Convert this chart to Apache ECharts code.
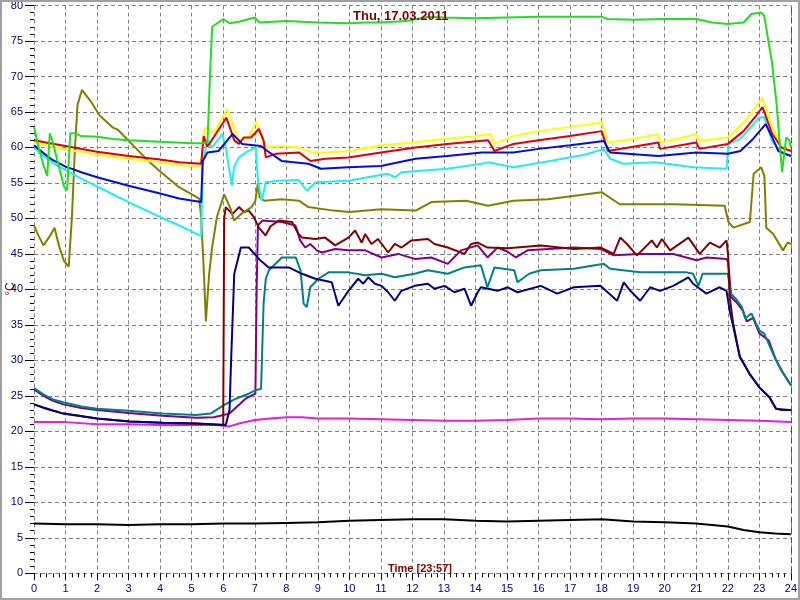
<!DOCTYPE html>
<html><head><meta charset="utf-8">
<script src="https://cdn.jsdelivr.net/npm/echarts@6/dist/echarts.min.js"></script>
<style>html,body{margin:0;padding:0;background:#fff}#c{width:800px;height:600px}</style>
</head><body><div id="c"></div>
<script>
const titleText = 'Thu, 17.03.2011';
const xLabelText = 'Time [23:57]';
const yLabelText = '°C';
const xTicks = [0,1,2,3,4,5,6,7,8,9,10,11,12,13,14,15,16,17,18,19,20,21,22,23,24];
const yTicks = [0,5,10,15,20,25,30,35,40,45,50,55,60,65,70,75,80];

const green = [[0,62.9],[0.15,60],[0.3,57.5],[0.42,56],[0.5,62],[0.58,61],[0.75,58],[0.95,54.5],[1.05,54],[1.15,62],[1.3,62],[1.5,61.6],[2,61.5],[2.5,61.2],[3,61],[3.5,60.9],[4,60.8],[4.5,60.7],[5,60.6],[5.3,60.6],[5.5,60.7],[5.58,70],[5.65,77],[6.0,78.1],[6.2,77.5],[6.5,77.7],[7.0,78.3],[7.15,77.6],[8,77.8],[9,77.6],[10,77.5],[10.5,77.6],[11,77.6],[11.8,77.8],[12.5,78.4],[13,78.3],[14,78.2],[15,78.3],[16,78.4],[17,78.4],[18,78.4],[18.2,78.1],[19,78.0],[20,78.1],[21,78.1],[21.5,77.6],[22,77.4],[22.5,77.6],[22.75,78.8],[23.06,79],[23.15,78.6],[23.4,72],[23.55,66],[23.72,56.5],[23.85,61.4],[23.95,61],[24,60]];
const yellow = [[0,60.7],[0.5,60.2],[1,59.7],[2,59],[3,58.4],[4,57.9],[4.6,57.5],[5.3,57.3],[5.4,62.6],[5.5,62.8],[5.7,62],[6.12,65.4],[6.5,61],[6.8,61.4],[7.05,63.6],[7.25,61],[7.35,60],[7.8,60.2],[8.4,60],[8.8,59.3],[9.3,59.3],[10,59.5],[11,60.3],[12,60.7],[13,61.2],[14,61.6],[14.48,61.9],[14.6,60.5],[15.2,61.6],[16,62.3],[17,62.9],[18,63.5],[18.2,60.7],[19,61.2],[19.8,61.9],[19.85,60.7],[20.5,61.3],[21,61.9],[21.1,60.9],[22,61.4],[22.5,63.5],[22.8,65.2],[23.1,67],[23.4,63],[23.7,60.2],[24,59.5]];
const red = [[0,61],[0.5,60.6],[1,60.2],[2,59.4],[3,58.8],[4,58.3],[4.6,57.9],[5.3,57.7],[5.38,61.6],[5.5,60.1],[6.1,64.2],[6.35,61],[6.5,60.5],[6.65,61.4],[6.88,61.4],[7.13,62.6],[7.28,61],[7.35,58.6],[7.66,59.1],[8.4,59.3],[8.77,58.1],[9.24,58.4],[9.97,58.6],[11,59.3],[12.1,60],[13.1,60.5],[14.4,61],[14.6,59.5],[15.2,60.5],[16,61],[17,61.6],[18,62.3],[18.2,59.5],[19.8,60.7],[19.85,59.8],[21,60.7],[21.1,59.8],[22,60.5],[22.5,62.3],[22.9,64.5],[23.1,65.7],[23.4,62],[23.7,60],[24,59.5]];
const blue = [[0,60.3],[0.3,59.2],[0.6,58.2],[1,57.3],[1.5,56.5],[2,55.8],[3,54.6],[4,53.5],[4.6,52.8],[5.3,52.3],[5.35,58.1],[5.5,59.3],[5.85,59.5],[6.3,61.9],[6.6,60.5],[7.2,60.2],[7.4,59.5],[7.85,58.1],[8.7,57.7],[9.1,57.0],[9.97,57.2],[11,57.4],[12.1,58.4],[13.1,58.8],[14.2,59.3],[15.2,59.3],[16,59.8],[17,60.3],[18.07,60.9],[18.27,59.3],[19.8,58.8],[21,59.3],[22,59.1],[22.4,59.5],[22.8,61.2],[23.2,63.3],[23.4,61.5],[23.6,59.5],[24,58.8]];
const cyan = [[0,60],[0.3,58.8],[0.6,57.8],[1,56.8],[1.5,55.6],[2,54.5],[3,52.3],[4,50.2],[4.6,49],[5.3,47.5],[5.35,57.7],[5.5,61],[5.65,60],[5.97,61.9],[6.08,60],[6.18,57.2],[6.28,54.6],[6.34,57.2],[6.5,58.6],[6.72,59.3],[7.03,60],[7.1,55.3],[7.22,52.5],[7.35,55.1],[7.75,55.3],[8.4,55.4],[8.65,53.9],[8.93,55.1],[9.97,55.3],[11.2,56.3],[11.45,55.8],[11.65,56.5],[13.1,57.0],[14.2,57.7],[14.4,57.9],[15.2,57.2],[16.5,58.2],[17.5,59],[18.07,59.8],[18.27,58.4],[18.7,57.7],[19.7,57.9],[20.9,57.2],[21.96,57.0],[22.02,60.5],[22.4,61.2],[23.0,64.2],[23.15,64.3],[23.4,61],[23.7,59.3],[24,58.8]];
const olive = [[0,49],[0.15,47.5],[0.3,46.2],[0.5,47.5],[0.65,48.7],[0.8,46],[0.95,44],[1.1,43.2],[1.2,50],[1.3,60],[1.38,66],[1.52,68.1],[1.8,66.5],[2.08,64.5],[2.5,62.8],[2.66,62.5],[3.25,59.8],[3.6,58.2],[4,56.6],[4.6,54.4],[5.24,52.8],[5.3,50.2],[5.38,43.1],[5.45,35.5],[5.55,42],[5.65,46],[5.8,50.2],[6.03,53.4],[6.24,51.3],[6.34,49.7],[6.56,50.6],[6.9,51.6],[7.02,52.5],[7.1,55],[7.15,53],[7.3,52.5],[7.85,52.7],[8.4,52.5],[8.7,51.6],[9.5,51.1],[10,50.9],[11,51.3],[12.1,51.1],[12.6,52.3],[13.7,52.5],[14.4,51.8],[15.2,52.5],[16.3,52.7],[18,53.7],[18.57,52.0],[20.3,52.0],[21.9,51.8],[22.02,49.5],[22.18,48.7],[22.7,49.5],[22.82,56.3],[23.06,57.2],[23.16,56.0],[23.22,48.7],[23.44,47.8],[23.75,45.5],[23.9,46.6],[24,46.4]];
const darkRed = [[0,23.8],[0.93,22.5],[2,21.8],[3.03,21.4],[4.08,21.2],[5.14,21.1],[6.0,20.9],[6.03,50],[6.08,51.6],[6.29,50.6],[6.5,51.6],[6.66,50.9],[6.81,51.1],[6.97,50.2],[7.13,48.7],[7.34,47.6],[7.5,48.9],[7.76,49.7],[8.18,49.5],[8.39,47.8],[8.5,47.3],[8.92,47.1],[9.23,47.3],[9.55,46.2],[9.97,47.3],[10.18,48.3],[10.39,46.6],[10.5,47.8],[10.7,46.4],[10.91,47.1],[11.23,45.2],[11.44,46.4],[11.65,45.9],[11.97,46.9],[12.49,47.1],[12.7,46.4],[13.12,45.9],[13.65,45],[13.86,46.4],[14.07,46.6],[14.38,45.9],[15.02,45.8],[16.07,46.2],[17.12,45.7],[17.96,45.9],[18.38,45.0],[18.59,47.3],[18.8,46.4],[19.12,44.8],[19.59,46.9],[19.75,45.9],[19.91,47.1],[20.17,45.5],[20.75,47.3],[21.11,45],[21.43,46.6],[21.75,45.9],[21.96,46.9],[22.01,44.8],[22.06,38.9],[22.17,35.2],[22.38,30.5],[22.69,28.1],[23.0,26.2],[23.32,24.8],[23.53,23.2],[23.95,23.0],[24,23.0]];
const purple = [[0,25.9],[0.3,25],[0.6,24.3],[0.93,23.8],[1.5,23.3],[2,23.0],[3,22.6],[4.08,22.2],[5.14,21.9],[5.7,22.0],[6.2,22.5],[6.71,24.6],[7.02,25.3],[7.06,40],[7.1,49],[7.24,49.7],[7.86,49.5],[8.29,49],[8.44,46.9],[8.6,45.9],[8.76,46.4],[8.97,45.5],[9.13,45.2],[9.55,45.7],[9.97,45.5],[10.5,45.5],[11.02,44.5],[11.55,45.0],[12.07,44.3],[12.6,44.5],[13.12,43.6],[13.54,45.5],[14.07,46.2],[14.38,44.5],[14.7,45.9],[15.02,45.3],[15.28,44.5],[15.65,45.5],[17.12,45.9],[17.96,45.7],[18.38,44.8],[19.22,45],[20.27,45],[21.01,44.1],[21.32,44.5],[21.96,44.3],[22.01,43.8],[22.11,38.9],[22.27,38.2],[22.48,37],[22.6,35.5],[22.8,36],[23.0,33.8],[23.3,32.8],[23.53,30],[23.74,28.3],[24,26.5]];
const navy = [[0,23.8],[0.3,23.3],[0.93,22.5],[2,21.8],[3.03,21.4],[4.08,21.2],[5.14,21.1],[6.08,20.9],[6.2,23],[6.25,30],[6.35,42.2],[6.56,45.9],[6.81,45.9],[7.13,44.3],[7.44,43.1],[8.08,43.1],[8.5,42.2],[8.92,41.5],[9.44,41],[9.65,37.7],[9.97,39.8],[10.28,41.5],[10.44,40.8],[10.6,41.7],[10.81,40.8],[11.02,40.5],[11.23,39.6],[11.44,38.4],[11.65,39.8],[12.07,40.5],[12.49,40.8],[12.7,40.1],[13.02,40.5],[13.33,39.6],[13.65,40.1],[13.86,37.7],[14.07,39.6],[14.17,40.3],[14.7,39.8],[15.02,40.3],[15.33,39.6],[16.07,40.5],[16.59,39.4],[17.12,40.3],[17.96,40.5],[18.49,38.4],[18.7,41.0],[18.91,39.8],[19.22,38.4],[19.54,40.3],[19.85,39.8],[20.27,40.5],[20.75,41.7],[20.9,40.8],[21.32,39.4],[21.74,40.3],[21.96,39.8],[22.06,37],[22.2,34.2],[22.38,30.5],[22.69,28.1],[23.0,26.2],[23.32,24.8],[23.53,23.2],[23.7,23],[24,23]];
const teal = [[0,26.1],[0.3,25.2],[0.6,24.5],[0.93,24.1],[1.5,23.5],[2,23.2],[3,22.9],[4.08,22.5],[5.14,22.3],[5.6,22.5],[6.02,23.7],[6.4,24.6],[6.81,25.3],[7.03,25.8],[7.2,26],[7.28,38],[7.35,41.5],[7.45,42.7],[7.86,44.5],[8.3,44.5],[8.45,42.7],[8.55,38.0],[8.65,37.5],[8.76,40.3],[9.02,41.5],[9.34,42.4],[9.97,42.4],[10.5,42.0],[11.02,42.2],[11.44,41.7],[12.07,42.2],[12.49,42.7],[13.12,42.2],[13.65,43.1],[14.17,43.4],[14.38,40.3],[14.6,43.1],[15.23,42.7],[15.33,41.0],[15.7,42.2],[16.07,42.7],[17.12,42.9],[18.07,43.6],[18.27,42.9],[19.22,42.4],[20.7,42.4],[20.9,42.2],[21.07,40.5],[21.2,42.2],[22.0,42.2],[22.1,39.4],[22.25,38.7],[22.45,37.5],[22.55,35.9],[22.75,36.6],[23.0,34.2],[23.15,33.8],[23.48,30.5],[23.7,28.6],[24,26.5]];
const magenta = [[0,21.3],[1,21.3],[2,21.0],[3,21.0],[4,20.9],[5,20.9],[5.8,20.9],[6.2,20.7],[6.5,21.1],[7.0,21.6],[7.5,21.8],[8,22],[8.5,22],[9,21.8],[10,21.8],[11,21.7],[12,21.6],[13,21.5],[14,21.5],[15,21.6],[16,21.8],[17,21.8],[18,21.7],[19,21.8],[20,21.8],[21,21.7],[22,21.6],[23,21.5],[24,21.3]];
const black = [[0,7.0],[1,6.9],[2,6.9],[3,6.8],[4,6.9],[5,6.9],[6,7.0],[7,7.0],[8,7.1],[9,7.2],[10,7.4],[11,7.5],[12,7.6],[13,7.6],[14,7.4],[15,7.3],[16,7.4],[17,7.5],[18,7.6],[19,7.3],[20,7.2],[21,7.0],[22,6.6],[22.5,6.1],[23,5.8],[23.5,5.6],[24,5.5]];

const seriesDefs = [
  ['black', black, '#000000'],
  ['magenta', magenta, '#e020e0'],
  ['purple', purple, '#800080'],
  ['teal', teal, '#008080'],
  ['darkRed', darkRed, '#800000'],
  ['navy', navy, '#000080'],
  ['olive', olive, '#808000'],
  ['cyan', cyan, '#22eeee'],
  ['yellow', yellow, '#ffff00'],
  ['red', red, '#e00000'],
  ['blue', blue, '#0010d0'],
  ['green', green, '#22dd22']
];

const chart = echarts.init(document.getElementById('c'), null, {renderer:'canvas'});
const series = seriesDefs.map(([name, data, color]) => ({
  name, type:'line', data, showSymbol:false, symbol:'none', animation:false,
  lineStyle:{color, width:2}, itemStyle:{color}
}));
series.push({
  name:'now', type:'line', data:[], silent:true,
  markLine:{symbol:'none', silent:true, animation:false, label:{show:false},
    lineStyle:{color:'#008000', type:[6,4], width:1}, data:[{xAxis:24}]}
});
const gridLine = {show:true, lineStyle:{color:'#808080', type:[4,3], width:1}};
const hiddenLine = {show:true, lineStyle:{color:'rgba(0,0,0,0)', width:1}};
chart.setOption({
  animation:false,
  backgroundColor:'#ffffff',
  grid:{left:34, right:5, top:4.5, bottom:26.7, containLabel:false},
  xAxis:{type:'value', min:0, max:24, interval:1,
    axisLine:hiddenLine, splitLine:gridLine,
    axisTick:{show:true, length:7, lineStyle:{color:'#000000'}},
    minorTick:{show:true, splitNumber:5, length:4, lineStyle:{color:'#000000'}},
    axisLabel:{color:'#000080', fontSize:11, margin:10, fontFamily:'Liberation Sans',
      formatter:v => xTicks.includes(v) ? String(v) : ''}},
  yAxis:{type:'value', min:0, max:80, interval:5,
    axisLine:hiddenLine, splitLine:gridLine,
    axisTick:{show:true, length:9, lineStyle:{color:'#000000'}},
    minorTick:{show:true, splitNumber:5, length:4, lineStyle:{color:'#000000'}},
    axisLabel:{color:'#000080', fontSize:11, margin:11, fontFamily:'Liberation Sans',
      formatter:v => yTicks.includes(v) ? String(v) : ''}},
  graphic:[
    {type:'rect', shape:{x:1, y:1, width:798, height:598}, style:{fill:'none', stroke:'#a0a0a0', lineWidth:2}, silent:true, z:100},
    {type:'text', left:400-47, top:10, style:{text:titleText, fill:'#800000', font:'bold 13px "Liberation Sans"'}, z:100},
    {type:'text', left:388, top:563, style:{text:xLabelText, fill:'#800000', font:'bold 11px "Liberation Sans"'}, z:100},
    {type:'text', x:11, y:289, rotation:Math.PI/2, style:{text:yLabelText, fill:'#800000', font:'12px "Liberation Sans"', align:'center', verticalAlign:'middle'}, z:100}
  ],
  series
});
</script>
</body></html>
